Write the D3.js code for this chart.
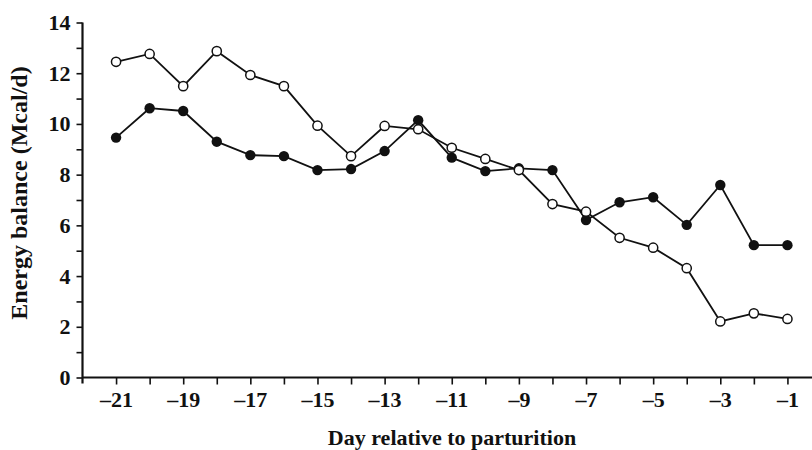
<!DOCTYPE html>
<head>
  <meta charset="utf-8">
  <style>
    body { margin: 0; background: #fff; }
    svg { display: block; }
    text { font-family: "Liberation Serif", "Times New Roman", serif; font-weight: bold; fill: #111; }
  </style>
</head>
<svg width="812" height="450"></svg>
<script src="https://d3js.org/d3.v7.min.js"></script>
<script>
  // day relative to parturition
  var days = [-21, -20, -19, -18, -17, -16, -15, -14, -13, -12, -11,
              -10, -9, -8, -7, -6, -5, -4, -3, -2, -1];
  // open circles
  var openSeries = [12.45, 12.76, 11.49, 12.87, 11.93, 11.49, 9.93, 8.73, 9.92, 9.79, 9.06,
                    8.62, 8.18, 6.84, 6.54, 5.51, 5.12, 4.31, 2.21, 2.53, 2.31];
  // filled circles
  var filledSeries = [9.46, 10.62, 10.51, 9.30, 8.77, 8.73, 8.18, 8.22, 8.93, 10.15, 8.67,
                      8.14, 8.25, 8.18, 6.21, 6.91, 7.11, 6.02, 7.59, 5.22, 5.22];
  var xTicks = d3.range(-21, 0);
  var yTicks = d3.range(0, 15);

  var svg = d3.select("svg");

  var x = d3.scaleLinear().domain([-22, 0]).range([82.5, 821]);
  var y = d3.scaleLinear().domain([0, 14]).range([377.5, 22.5]);

  var xAxis = svg.append("g")
    .attr("transform", "translate(0," + y(0) + ")")
    .call(d3.axisBottom(x)
      .tickValues(xTicks)
      .tickSize(7)
      .tickPadding(7)
      .tickFormat(function(d) { return d % 2 !== 0 ? "\u2013" + Math.abs(d) : ""; }));
  xAxis.select(".domain").remove();
  xAxis.selectAll(".tick line").attr("stroke", "#111").attr("stroke-width", 1.6);
  xAxis.selectAll(".tick text").style("font-size", "22px").attr("fill", "#111")
    .style("font-family", "'Liberation Serif', serif");

  var yAxis = svg.append("g")
    .attr("transform", "translate(" + x(-22) + ",0)")
    .call(d3.axisLeft(y)
      .tickValues(yTicks)
      .tickSize(6)
      .tickPadding(6)
      .tickFormat(function(d) { return d % 2 === 0 ? d : ""; }));
  yAxis.select(".domain").remove();
  yAxis.selectAll(".tick line").attr("stroke", "#111").attr("stroke-width", 1.6);
  yAxis.selectAll(".tick text").style("font-size", "22px").attr("fill", "#111")
    .style("font-family", "'Liberation Serif', serif");

  // axis lines
  svg.append("line")
    .attr("x1", x(-22)).attr("x2", 812)
    .attr("y1", y(0)).attr("y2", y(0))
    .attr("stroke", "#111").attr("stroke-width", 2.2);
  svg.append("line")
    .attr("x1", x(-22)).attr("x2", x(-22))
    .attr("y1", y(14)).attr("y2", y(0) + 6)
    .attr("stroke", "#111").attr("stroke-width", 2.2);

  var line = d3.line()
    .x(function(d, i) { return x(days[i]); })
    .y(function(d) { return y(d); });

  svg.append("path").datum(filledSeries)
    .attr("d", line).attr("fill", "none")
    .attr("stroke", "#111").attr("stroke-width", 1.8);
  svg.append("path").datum(openSeries)
    .attr("d", line).attr("fill", "none")
    .attr("stroke", "#111").attr("stroke-width", 1.8);

  svg.append("g").selectAll("circle")
    .data(filledSeries)
    .enter().append("circle")
    .attr("cx", function(d, i) { return x(days[i]); })
    .attr("cy", function(d) { return y(d); })
    .attr("r", 5.2)
    .attr("fill", "#111");

  svg.append("g").selectAll("circle")
    .data(openSeries)
    .enter().append("circle")
    .attr("cx", function(d, i) { return x(days[i]); })
    .attr("cy", function(d) { return y(d); })
    .attr("r", 4.6)
    .attr("fill", "#fff")
    .attr("stroke", "#111")
    .attr("stroke-width", 1.5);

  svg.append("text")
    .attr("x", 452).attr("y", 445)
    .attr("text-anchor", "middle")
    .style("font-size", "22px")
    .text("Day relative to parturition");

  svg.append("text")
    .attr("transform", "translate(27,193) rotate(-90)")
    .attr("text-anchor", "middle")
    .style("font-size", "24px")
    .text("Energy balance (Mcal/d)");
</script>
